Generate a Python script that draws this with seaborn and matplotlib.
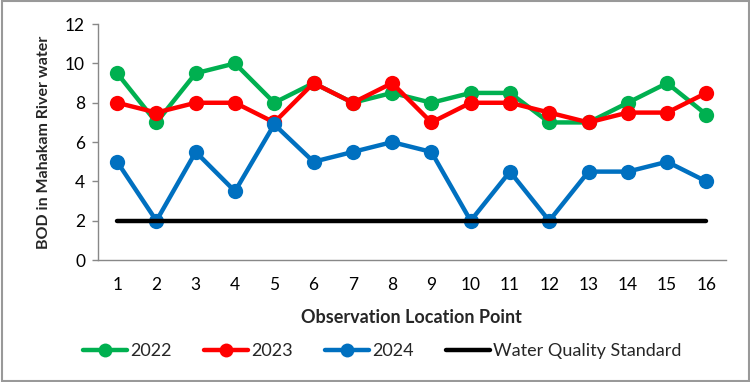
import pandas as pd
import matplotlib.pyplot as plt
import seaborn as sns
from matplotlib.lines import Line2D

# Data
points = list(range(1, 17))
bod_2022 = [9.5, 7, 9.5, 10, 8, 9, 8, 8.5, 8, 8.5, 8.5, 7, 7, 8, 9, 7.4]
bod_2023 = [8, 7.5, 8, 8, 7, 9, 8, 9, 7, 8, 8, 7.5, 7, 7.5, 7.5, 8.5]
bod_2024 = [5, 2, 5.5, 3.5, 6.9, 5, 5.5, 6, 5.5, 2, 4.5, 2, 4.5, 4.5, 5, 4]
standard = [2] * 16

series = {'2022': bod_2022, '2023': bod_2023, '2024': bod_2024}
colors = {'2022': '#00B050', '2023': '#FF0000', '2024': '#0070C0'}

df = pd.concat(
    [pd.DataFrame({'Point': points, 'BOD': v, 'Year': k}) for k, v in series.items()],
    ignore_index=True,
)

sns.set_style('white')
plt.rcParams['font.family'] = ['Lato', 'DejaVu Sans']

fig = plt.figure(figsize=(7.5, 3.82), dpi=100)
ax = fig.add_axes([0.130, 0.319, 0.838, 0.618])

sns.lineplot(data=df, x='Point', y='BOD', hue='Year', palette=colors,
             marker='o', markersize=11, markeredgewidth=0, linewidth=3.2,
             ax=ax, legend=False)
sns.lineplot(x=points, y=standard, color='black', linewidth=3.2, ax=ax)

ax.set_xlim(0.5, 16.5)
ax.set_ylim(0, 12)
ax.set_yticks(range(0, 13, 2))
ax.set_xticks(points)
ax.tick_params(axis='both', labelsize=12.5, colors='black')
ax.tick_params(axis='y', length=4, color='#888888', width=1, left=True, pad=5)
ax.tick_params(axis='x', length=0, pad=12)
for s in ['top', 'right']:
    ax.spines[s].set_visible(False)
for s in ['left', 'bottom']:
    ax.spines[s].set_color('#888888')
    ax.spines[s].set_linewidth(1)

ax.set_xlabel('Observation Location Point', fontsize=13, fontweight='bold', labelpad=12)
ax.set_ylabel('BOD in Mahakam River water', fontsize=11.5, fontweight='bold', labelpad=10)

handles = [Line2D([], [], color=colors[k], marker='o', markersize=10, markeredgewidth=0,
                  linewidth=3.2) for k in series]
handles.append(Line2D([], [], color='black', linewidth=3.2))
fig.legend(handles, ['2022', '2023', '2024', 'Water Quality Standard'],
           loc='center', bbox_to_anchor=(0.51, 0.08), ncol=4, frameon=False,
           fontsize=13, handlelength=2.4, handletextpad=0.2, columnspacing=1.8)

fig.patches.append(plt.Rectangle((0.002, 0.003), 0.996, 0.994, transform=fig.transFigure,
                                 fill=False, edgecolor='#999999', linewidth=1.5))

fig.savefig('out.png', dpi=100)
